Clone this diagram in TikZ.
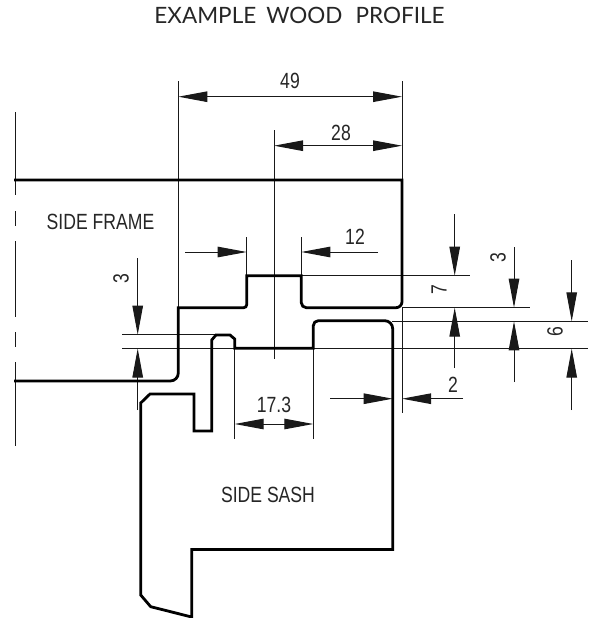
\documentclass[tikz,border=0pt]{standalone}
\usepackage{fontspec}
\setmainfont{Liberation Sans}
\newfontfamily\dimfont[FakeStretch=0.8]{Liberation Sans}
\newfontfamily\titlefont{Lato}
\usetikzlibrary{arrows.meta}

\begin{document}
\begin{tikzpicture}[x=1pt,y=-1pt,>={Triangle[length=29pt,width=10.5pt]},
  profile/.style={draw=black, line width=2.8pt},
  thinline/.style={draw=black!90, line width=1pt},
  dimline/.style={thinline, ->},
  dimtext/.style={inner sep=0pt, font=\dimfont\fontsize{22}{22}\selectfont, text=black!85},
  titletext/.style={inner sep=0pt, font=\titlefont\fontsize{22.5}{22.5}\selectfont, text=black!85}]
    \useasboundingbox (0,0) rectangle (597,618);
    \fill[white] (0,0) rectangle (597,618);
    % labels
    \node [titletext] (title) at (299.5,15) {EXAMPLE\hspace{10pt}WOOD\hspace{13pt}PROFILE};
    \node [dimtext] (frame) at (100.5,221.5) {SIDE FRAME};
    \node [dimtext] (sash) at (268,495) {SIDE SASH};
    \node [dimtext] (d49) at (290,81) {49};
    \node [dimtext] (d28) at (341,133) {28};
    \node [dimtext] (d12) at (355,237) {12};
    \node [dimtext] (d173) at (274,405) {17.3};
    \node [dimtext] (d2) at (453,385) {2};
    \node [dimtext, rotate=90] (d3a) at (121,279) {3};
    \node [dimtext, rotate=90] (d7) at (439,290) {7};
    \node [dimtext, rotate=90] (d3b) at (498,258) {3};
    \node [dimtext, rotate=90] (d6) at (555,332) {6};
    % extension lines
    \draw[thinline] (178.3,81) -- (178.3,308);
    \draw[thinline] (402,81) -- (402,180);
    \draw[thinline] (402,308) -- (402,413);
    \draw[thinline] (274,130) -- (274,359);
    \draw[thinline] (246.7,237) -- (246.7,276);
    \draw[thinline] (301.3,237) -- (301.3,276);
    \draw[thinline] (301.3,275.7) -- (470,275.7);
    \draw[thinline] (402,307.7) -- (530,307.7);
    \draw[thinline] (392,321.3) -- (588,321.3);
    \draw[thinline] (313.3,348.7) -- (588,348.7);
    \draw[thinline] (122,334.7) -- (216,334.7);
    \draw[thinline] (122,348.5) -- (234.7,348.5);
    \draw[thinline] (234.7,348) -- (234.7,439);
    \draw[thinline] (313.3,348) -- (313.3,439);
    % break line
    \draw[thinline] (15.7,112) -- (15.7,195);
    \draw[thinline] (15.7,211) -- (15.7,226);
    \draw[thinline] (15.7,241) -- (15.7,317);
    \draw[thinline] (15.7,332) -- (15.7,347);
    \draw[thinline] (15.7,362) -- (15.7,446);
    % dimensions
    \draw[thinline, <->] (178.3,96.7) -- (402,96.7);
    \draw[thinline, <->] (274,145.7) -- (402,145.7);
    \draw[thinline, <->] (234.7,424) -- (313.3,424);
    \draw[dimline] (185,252) -- (246.7,252);
    \draw[dimline] (378,252) -- (301.3,252);
    \draw[dimline] (330,398.7) -- (392.7,398.7);
    \draw[dimline] (463,398.7) -- (402,398.7);
    \draw[dimline] (137.7,258) -- (137.7,334.7);
    \draw[dimline] (137.7,410) -- (137.7,348.5);
    \draw[dimline] (454.7,214) -- (454.7,275.7);
    \draw[dimline] (454.7,368) -- (454.7,307.7);
    \draw[dimline] (514,247) -- (514,307.7);
    \draw[dimline] (514,382) -- (514,321.3);
    \draw[dimline] (571.7,260) -- (571.7,321.3);
    \draw[dimline] (571.7,410) -- (571.7,348.7);
    % side frame
    \draw[profile] (14,180) -- (402,180) [rounded corners=6pt] -- (402,307.7)
        [rounded corners=5pt] -- (301.3,307.7) [sharp corners] -- (301.3,275.7) -- (246.7,275.7)
        [rounded corners=3pt] -- (246.7,307.7) [sharp corners] -- (178.3,307.7)
        [rounded corners=8pt] -- (178.3,381) [sharp corners] -- (14,381);
    % side sash
    \draw[profile] (140.7,403) -- (150,394) -- (194,394) -- (194,431) -- (211.7,431) -- (211.7,340)
        -- (216,335) -- (230,335) -- (234.7,339) -- (234.7,348.3) -- (313.3,348.3)
        [rounded corners=5pt] -- (313.3,320.7) [rounded corners=8pt] -- (392.7,320.7)
        [sharp corners] -- (392.7,549.5) -- (191.7,549.5) -- (191.7,617) -- (150.7,606.7)
        -- (140.7,595) -- cycle;
\end{tikzpicture}
\end{document}
